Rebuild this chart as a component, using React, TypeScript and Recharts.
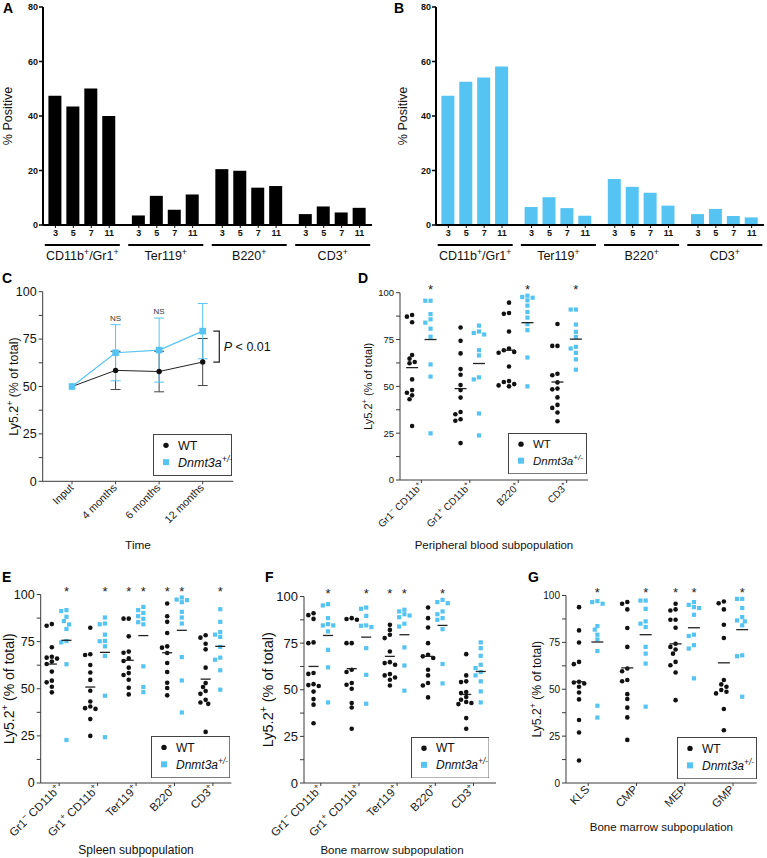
import {
  BarChart,
  Bar,
  LineChart,
  Line,
  ErrorBar,
  ScatterChart,
  Scatter,
  XAxis,
  YAxis,
  ReferenceDot,
  ReferenceLine,
  Legend,
} from "recharts";

const FONT = '"Liberation Sans", Arial, Helvetica, sans-serif';
const BLUE = "#56C4F2";
const INK = "#111111";
const AXIS = "#3a3a3a";
const Y_TICKS = [0, 12.5, 25, 37.5, 50, 62.5, 75, 87.5, 100];

// A / B: % positive per lineage and day
const lineages = ["CD11b⁺/Gr1⁺", "Ter119⁺", "B220⁺", "CD3⁺"];
const days = ["3", "5", "7", "11"];
const wtPositive = [47.4, 43.5, 50.1, 40.0, 3.5, 10.7, 5.6, 11.2, 20.5, 19.9, 13.7, 14.3, 4.0, 6.8, 4.6, 6.3];
const mutPositive = [47.4, 52.6, 54.1, 58.2, 6.6, 10.2, 6.2, 3.4, 16.9, 14.0, 11.8, 7.1, 4.0, 5.9, 3.3, 2.8];

// C: chimerism over time
const timeLabels = ["Input", "4 months", "6 months", "12 months"];
const wtChimerism = [50, 58.5, 57.9, 62.9];
const wtSd = [0, 10.1, 10.7, 12.4];
const mutChimerism = [50, 67.8, 69.2, 79.2];
const mutSd = [0, 14.8, 16.9, 14.6];
const timeNotes = ["", "NS", "NS", ""];

const mutName = "Dnmt3a";
const mutSup = "+/-";
const yTitleText = "Ly5.2⁺ (% of total)";

// D: peripheral blood
const pbCells = ["Gr1⁻ CD11b⁺", "Gr1⁺ CD11b⁺", "B220⁺", "CD3⁺"];
const pbWt = [
  [88.1, 87.2, 84.2, 66.7, 64.8, 63.0, 62.3, 53.7, 48.0, 46.6, 45.2, 43.1, 28.8],
  [81.4, 74.3, 67.6, 59.2, 56.2, 50.7, 48.0, 44.0, 36.3, 35.1, 32.4, 31.6, 19.7],
  [94.7, 89.2, 88.7, 79.3, 70.2, 69.3, 68.4, 67.9, 60.6, 52.8, 52.3, 51.2, 50.5, 50.0],
  [83.3, 71.6, 71.6, 56.7, 55.9, 52.1, 48.8, 48.4, 44.1, 40.1, 38.5, 36.0, 31.4],
];
const pbMut = [
  [95.7, 95.7, 88.6, 85.8, 84.0, 80.8, 76.5, 61.7, 55.2, 24.9],
  [82.4, 79.3, 78.5, 77.7, 69.3, 66.5, 54.8, 53.7, 35.5, 23.8],
  [98.4, 97.7, 97.3, 95.9, 93.1, 89.7, 86.7, 83.2, 80.0, 65.4, 50.0],
  [91.0, 91.0, 83.0, 79.1, 76.4, 71.1, 70.2, 67.9, 64.4, 58.9],
];
const pbWtMean = [60.0, 48.8, 69.3, 52.3];
const pbMutMean = [75.0, 62.2, 84.0, 75.2];
const pbStars = [[0, 1], [0, 0], [0, 1], [0, 1]];

// E: spleen
const spCells = ["Gr1⁻ CD11b⁺", "Gr1⁺ CD11b⁺", "Ter119⁺", "B220⁺", "CD3⁺"];
const spWt = [
  [84.3, 83.4, 72.0, 67.0, 66.5, 66.0, 64.4, 63.1, 59.1, 54.3, 53.4, 51.1, 48.1],
  [82.4, 68.3, 67.9, 62.6, 58.6, 54.7, 48.9, 43.2, 40.6, 39.7, 39.3, 33.9, 25.0],
  [87.2, 87.2, 77.8, 69.7, 69.1, 66.1, 64.7, 61.2, 58.3, 57.3, 54.8, 50.5, 47.0],
  [95.2, 88.5, 85.5, 79.6, 72.5, 71.8, 69.0, 63.7, 58.9, 53.2, 50.4, 46.5],
  [78.4, 77.1, 73.9, 70.9, 61.2, 53.0, 50.9, 48.8, 47.3, 44.1, 42.7, 42.0, 27.1],
];
const spMut = [
  [91.7, 91.2, 88.2, 85.9, 84.1, 81.7, 75.3, 74.6, 63.0, 22.8],
  [87.8, 84.6, 84.2, 78.7, 75.4, 75.2, 72.5, 67.4, 46.3, 24.3],
  [93.4, 91.7, 90.2, 88.5, 87.1, 85.3, 84.2, 61.9, 50.9, 48.2],
  [98.4, 97.3, 97.0, 95.9, 90.8, 87.8, 84.6, 66.8, 54.4, 37.4],
  [92.2, 85.5, 80.1, 78.7, 77.5, 72.2, 66.5, 65.4, 59.8, 49.5],
];
const spWtMean = [63.1, 50.9, 65.1, 69.1, 55.1];
const spMutMean = [75.7, 69.3, 78.2, 81.0, 72.5];
const spStars = [[0, 1], [0, 1], [1, 1], [1, 1], [0, 1]];

// F: bone marrow lineages
const bmCells = ["Gr1⁻ CD11b⁺", "Gr1⁺ CD11b⁺", "Ter119⁺", "B220⁺", "CD3⁺"];
const bmWt = [
  [91.0, 90.0, 88.0, 75.4, 75.0, 59.0, 58.5, 53.0, 52.5, 52.0, 49.0, 45.0, 42.0, 32.0],
  [88.4, 87.9, 87.5, 75.0, 75.0, 60.7, 59.5, 53.6, 52.7, 50.5, 42.9, 40.5, 29.1],
  [84.8, 82.1, 79.5, 77.7, 70.5, 64.8, 64.3, 63.4, 58.4, 57.7, 56.6, 55.4, 52.3],
  [94.1, 88.4, 83.4, 75.0, 68.8, 67.9, 67.0, 60.7, 57.7, 53.6, 52.3, 45.9],
  [69.1, 57.7, 54.5, 54.1, 48.8, 48.2, 46.1, 44.6, 43.4, 42.9, 42.3, 34.8, 29.1],
];
const bmMut = [
  [95.9, 95.2, 88.4, 85.2, 84.5, 84.5, 81.3, 71.4, 62.0, 43.2],
  [94.1, 93.4, 89.6, 84.5, 84.3, 83.6, 72.3, 58.0, 42.5],
  [92.9, 92.0, 90.5, 89.8, 88.9, 85.4, 83.9, 72.7, 63.0, 49.5],
  [98.2, 97.0, 96.4, 92.0, 90.5, 88.4, 87.5, 82.5, 63.8, 53.4],
  [75.4, 72.3, 68.2, 63.4, 61.6, 59.5, 57.7, 54.5, 49.1, 43.2],
];
const bmWtMean = [62.5, 61.3, 67.9, 67.9, 47.5];
const bmMutMean = [79.1, 78.2, 79.5, 84.5, 59.8];
const bmStars = [[0, 1], [0, 1], [1, 1], [0, 1], [0, 0]];

// G: bone marrow progenitors
const progCells = ["KLS", "CMP", "MEP", "GMP"];
const progWt = [
  [93.8, 81.4, 74.9, 64.6, 63.4, 54.0, 53.6, 53.1, 51.3, 48.3, 44.6, 33.6, 26.9, 12.0],
  [96.5, 95.6, 92.6, 82.7, 72.6, 61.1, 59.6, 54.9, 54.3, 47.4, 44.8, 40.2, 35.0, 23.0],
  [95.6, 92.6, 92.0, 87.1, 87.1, 82.8, 74.3, 72.6, 71.2, 69.0, 64.6, 62.8, 58.9, 44.2],
  [96.8, 95.9, 92.6, 84.4, 77.3, 54.9, 52.6, 51.3, 49.6, 48.7, 47.8, 39.5, 28.1],
];
const progMut = [
  [97.0, 96.5, 95.6, 83.7, 81.8, 79.1, 76.6, 70.4, 41.2, 34.9],
  [97.3, 97.3, 92.9, 86.2, 85.0, 83.2, 72.6, 69.0, 63.7, 40.7],
  [96.5, 95.0, 93.8, 93.3, 89.7, 79.1, 78.4, 73.5, 71.7, 55.8],
  [98.2, 98.2, 93.3, 88.5, 86.7, 86.2, 84.1, 68.1, 67.6, 46.0],
];
const progWtMean = [54.0, 61.4, 74.2, 64.1];
const progMutMean = [75.2, 79.1, 82.8, 81.8];
const progStars = [[0, 1], [0, 1], [1, 1], [0, 1]];

// raise ⁺ / ⁻ into small superscript tspans
function supSpans(text: string, size: number) {
  const parts = text.split(/([⁺⁻]+)/).filter((s) => s.length > 0);
  const rise = size * 0.4;
  let up = false;
  return parts.map((s, i) => {
    const sup = /^[⁺⁻]+$/.test(s);
    const dy = sup === up ? 0 : sup ? -rise : rise;
    up = sup;
    return (
      <tspan key={i} dy={dy} fontSize={sup ? size * 0.7 : size}>
        {sup ? s.replace(/⁺/g, "+").replace(/⁻/g, "−") : s}
      </tspan>
    );
  });
}

const yTitle = (text: string, size: number, cx: number) => (p: any) => {
  const vb = p.viewBox || { y: 0, height: 0 };
  const cy = vb.y + vb.height / 2;
  return (
    <text x={cx} y={cy} transform={`rotate(-90 ${cx} ${cy})`} textAnchor="middle" dy="0.35em" fontSize={size} fill={INK}>
      {supSpans(text, size)}
    </text>
  );
};

const xTitle = (text: string, size: number, dy: number, dx = 0) => (p: any) => {
  const vb = p.viewBox || { x: 0, y: 0, width: 0 };
  const cx = vb.x + vb.width / 2 + dx;
  return (
    <text x={cx} y={vb.y + dy} dy="0.35em" textAnchor="middle" fontSize={size} fill={INK}>
      {text}
    </text>
  );
};

const yTick = (size: number, bold = false) => (p: any) =>
  p.payload.value % 25 === 0 || bold ? (
    <text x={p.x} y={p.y} dy="0.35em" textAnchor="end" fontSize={size} fontWeight={bold ? 700 : 400} fill={INK}>
      {p.payload.value}
    </text>
  ) : (
    <g />
  );

const rotTick = (label: (v: any) => string, size: number) => (p: any) => {
  const x = p.x + 2;
  const y = p.y + 2;
  return (
    <text x={x} y={y} dy="0.35em" textAnchor="end" fontSize={size} fill="#1a1a1a" transform={`rotate(-45 ${x} ${y})`}>
      {supSpans(label(p.payload.value), size)}
    </text>
  );
};

function LegendBox({ w, h, size }: { w: number; h: number; size: number }) {
  const r1 = h * 0.27;
  const r2 = h * 0.67;
  return (
    <svg width={w} height={h} style={{ display: "block", fontFamily: FONT }}>
      <rect x={0.5} y={0.5} width={w - 1} height={h - 1} fill="#fff" stroke="#444" />
      <circle cx={13} cy={r1} r={2.7} fill={INK} />
      <text x={25} y={r1} dy="0.35em" fontSize={size} fill={INK}>
        WT
      </text>
      <rect x={10} y={r2 - 3} width={6} height={6} fill={BLUE} />
      <text x={25} y={r2} dy="0.35em" fontSize={size} fill={INK} fontStyle="italic">
        {mutName}
        <tspan dy={-size * 0.4} fontSize={size * 0.7}>
          {mutSup}
        </tspan>
      </text>
    </svg>
  );
}

const legendAt = (left: number, top: number, w: number, h: number, size: number) => (
  <Legend
    layout="horizontal"
    verticalAlign="middle"
    align="center"
    wrapperStyle={{ left, top, width: w, height: h }}
    content={() => <LegendBox w={w} h={h} size={size} />}
  />
);

// ---------- A / B ----------
const GROUP_STEP = 4.65;
const BAR_DOMAIN: [number, number] = [-0.69, 3 * GROUP_STEP + 3 + 0.69];

function BarPanel({ values, color, left, width, yw, mr, titleX }: any) {
  const rows = values.map((v: number, i: number) => ({ x: Math.floor(i / 4) * GROUP_STEP + (i % 4), v }));
  const dayTicks = rows.map((r: any) => r.x);
  const groupTicks = lineages.map((_, g) => g * GROUP_STEP + 1.5);
  const dayTick = (p: any) => (
    <text x={p.x} y={p.y} dy="0.71em" textAnchor="middle" fontSize={9} fontWeight={700} fill={INK}>
      {days[p.index % 4]}
    </text>
  );
  const groupTick = (p: any) => (
    <g>
      <line x1={p.x - 37.5} x2={p.x + 37.5} y1={p.y + 4} y2={p.y + 4} stroke="#000" strokeWidth={2} />
      <text x={p.x} y={p.y + 18.5} textAnchor="middle" fontSize={12.5} fill={INK}>
        {supSpans(lineages[p.index], 12.5)}
      </text>
    </g>
  );
  return (
    <div style={{ position: "absolute", left, top: 0 }}>
      <BarChart width={width} height={290} data={rows} margin={{ top: 7, right: mr, left: 0, bottom: 0 }}>
        <XAxis
          type="number"
          dataKey="x"
          domain={BAR_DOMAIN}
          allowDataOverflow
          ticks={dayTicks}
          interval={0}
          tick={dayTick}
          tickSize={3}
          tickMargin={2}
          height={16}
          axisLine={{ stroke: "#000", strokeWidth: 2 }}
          tickLine={{ stroke: "#000" }}
        />
        <XAxis
          xAxisId="grp"
          type="number"
          dataKey="x"
          domain={BAR_DOMAIN}
          allowDataOverflow
          ticks={groupTicks}
          interval={0}
          tick={groupTick}
          tickSize={0}
          tickMargin={0}
          height={49}
          axisLine={false}
          tickLine={false}
        />
        <YAxis
          domain={[0, 80]}
          ticks={[0, 20, 40, 60, 80]}
          interval={0}
          width={yw}
          tick={yTick(9, true)}
          tickSize={4}
          tickMargin={1}
          axisLine={{ stroke: "#000", strokeWidth: 2 }}
          tickLine={{ stroke: "#000", strokeWidth: 1.5 }}
          label={yTitle("% Positive", 12.5, titleX)}
        />
        <Bar dataKey="v" fill={color} barSize={13} isAnimationActive={false} />
      </BarChart>
    </div>
  );
}

// ---------- C ----------
function TimePanel() {
  const rows = timeLabels.map((t, i) => ({
    t,
    wt: wtChimerism[i],
    wtErr: wtSd[i],
    mut: mutChimerism[i],
    mutErr: mutSd[i],
  }));
  const circle = (p: any) => <circle key={`w${p.index}`} cx={p.cx} cy={p.cy} r={2.7} fill={INK} />;
  const square = (p: any) => <rect key={`m${p.index}`} x={p.cx - 3.3} y={p.cy - 3.3} width={6.6} height={6.6} fill={BLUE} />;
  return (
    <div style={{ position: "absolute", left: 0, top: 285 }}>
      <LineChart width={300} height={270} data={rows} margin={{ top: 6.7, right: 66.7, left: 0, bottom: 0 }}>
        <XAxis
          dataKey="t"
          scale="point"
          padding={{ left: 29.3, right: 30.6 }}
          height={73.7}
          interval={0}
          tick={rotTick((v) => String(v), 10.8)}
          tickSize={3}
          tickMargin={2}
          axisLine={{ stroke: AXIS }}
          tickLine={{ stroke: AXIS }}
          label={xTitle("Time", 11.8, 63.7)}
        />
        <YAxis
          domain={[0, 100]}
          ticks={Y_TICKS}
          interval={0}
          width={42.7}
          tick={yTick(12.5)}
          tickSize={4}
          tickMargin={2}
          axisLine={{ stroke: AXIS }}
          tickLine={{ stroke: AXIS }}
          label={yTitle(yTitleText, 12.4, 18.3)}
        />
        <Line dataKey="wt" stroke="#222" strokeWidth={1} dot={circle} activeDot={false} isAnimationActive={false}>
          <ErrorBar dataKey="wtErr" width={5} stroke="#444" strokeWidth={1} />
        </Line>
        <Line dataKey="mut" stroke={BLUE} strokeWidth={1.2} dot={square} activeDot={false} isAnimationActive={false}>
          <ErrorBar dataKey="mutErr" width={5} stroke={BLUE} strokeWidth={1} />
        </Line>
        {timeNotes.map((n, i) =>
          n ? (
            <ReferenceDot
              key={i}
              x={timeLabels[i]}
              y={mutChimerism[i] + mutSd[i] + 3.5}
              r={0}
              ifOverflow="visible"
              shape={(p: any) => (
                <text x={p.cx} y={p.cy} dy="0.35em" textAnchor="middle" fontSize={8} fill="#333">
                  {n}
                </text>
              )}
            />
          ) : null
        )}
        <ReferenceLine
          segment={[
            { x: timeLabels[3], y: mutChimerism[3] },
            { x: timeLabels[3], y: wtChimerism[3] },
          ]}
          shape={(p: any) => {
            const x0 = p.x1 + 10.6;
            const xv = p.x1 + 16.6;
            return (
              <g>
                <path d={`M${x0},${p.y1}H${xv}V${p.y2}H${x0}`} fill="none" stroke="#222" strokeWidth={1.2} />
                <text x={xv + 4.5} y={(p.y1 + p.y2) / 2} dy="0.35em" fontSize={12.5} fill={INK}>
                  <tspan fontStyle="italic">P</tspan> &lt; 0.01
                </text>
              </g>
            );
          }}
        />
        {legendAt(153, 149, 79, 42, 12.5)}
      </LineChart>
    </div>
  );
}

// ---------- D-G ----------
const SIDE = 0.19;
const XAXIS_H = 75;

// simple beeswarm: spread overlapping points sideways (pixel space)
function swarm(values: number[], center: number, unitX: number, unitY: number) {
  const placed: { dx: number; py: number }[] = [];
  const sorted = [...values].sort((a, b) => b - a);
  return sorted.map((v) => {
    const py = v * unitY;
    let dx = 0;
    for (let k = 0; k < 12; k++) {
      const cand = (k % 2 ? -1 : 1) * Math.ceil(k / 2) * 2.6;
      if (placed.every((p) => Math.hypot(p.dx - cand, p.py - py) >= 4.4)) {
        dx = cand;
        break;
      }
    }
    placed.push({ dx, py });
    return { x: center + dx / unitX, y: v };
  });
}

function DotPanel(c: any) {
  const plotW = c.width - c.yw - c.mr;
  const plotH = c.height - c.mt - XAXIS_H;
  const unitX = plotW / (c.domain[1] - c.domain[0]);
  const unitY = plotH / 100;
  const cells: string[] = c.cells;
  const wtPts = cells.flatMap((_, i) => swarm(c.wt[i], i + 1 - SIDE, unitX, unitY));
  const mutPts = cells.flatMap((_, i) => swarm(c.mut[i], i + 1 + SIDE, unitX, unitY));
  const avgPts = cells.flatMap((_, i) => [
    { x: i + 1 - SIDE, y: c.wtAvg[i] },
    { x: i + 1 + SIDE, y: c.mutAvg[i] },
  ]);
  const starPts = cells.flatMap((_, i) =>
    (c.stars[i] as number[]).flatMap((s, k) => (s ? [{ x: i + 1 + (k ? SIDE : -SIDE), y: 100 }] : []))
  );
  const dot = (p: any) => <circle cx={p.cx} cy={p.cy} r={2.3} fill={INK} />;
  const sq = (p: any) => <rect x={p.cx - 2.1} y={p.cy - 2.1} width={4.2} height={4.2} fill={BLUE} />;
  const avg = (p: any) => (
    <line x1={p.cx - c.meanHalf} x2={p.cx + c.meanHalf} y1={p.cy} y2={p.cy} stroke="#222" strokeWidth={1.3} />
  );
  const star = (p: any) => (
    <text x={p.cx} y={p.cy + 1} textAnchor="middle" fontSize={13} fill="#222">
      *
    </text>
  );
  return (
    <div style={{ position: "absolute", left: c.left, top: c.top }}>
      <ScatterChart width={c.width} height={c.height} margin={{ top: c.mt, right: c.mr, left: 0, bottom: 0 }}>
        <XAxis
          type="number"
          dataKey="x"
          domain={c.domain}
          ticks={cells.map((_, i) => i + 1)}
          interval={0}
          height={XAXIS_H}
          tick={rotTick((v) => cells[v - 1] || "", c.cellFont)}
          tickSize={3}
          tickMargin={2}
          axisLine={{ stroke: AXIS }}
          tickLine={{ stroke: AXIS }}
          label={xTitle(c.title, c.titleFont, c.titleDy, c.titleDx)}
        />
        <YAxis
          type="number"
          dataKey="y"
          domain={[0, 100]}
          ticks={Y_TICKS}
          interval={0}
          width={c.yw}
          tick={yTick(c.tickFont)}
          tickSize={4}
          tickMargin={2}
          axisLine={{ stroke: AXIS }}
          tickLine={{ stroke: AXIS }}
          label={yTitle(yTitleText, c.yTitleFont, c.yTitleX)}
        />
        <Scatter data={wtPts} shape={dot} isAnimationActive={false} />
        <Scatter data={mutPts} shape={sq} isAnimationActive={false} />
        <Scatter data={avgPts} shape={avg} isAnimationActive={false} />
        <Scatter data={starPts} shape={star} isAnimationActive={false} />
        {legendAt(c.legend[0], c.legend[1], c.legend[2], c.legend[3], c.legendFont)}
      </ScatterChart>
    </div>
  );
}

const letters: [string, number, number][] = [
  ["A", 3, 12.7],
  ["B", 394, 12.7],
  ["C", 2, 283],
  ["D", 358, 283],
  ["E", 2, 581.7],
  ["F", 265, 582],
  ["G", 528, 582],
];

export default function App() {
  return (
    <div style={{ position: "absolute", left: 0, top: 0, width: 767, height: 858, background: "#fff", fontFamily: FONT }}>
      <BarPanel values={wtPositive} color="#000" left={0} width={380} yw={43} mr={8} titleX={11.7} />
      <BarPanel values={mutPositive} color={BLUE} left={392} width={375} yw={44} mr={3} titleX={14.5} />
      <TimePanel />
      <DotPanel
        left={340} top={272} width={260} height={283} yw={60} mt={20.7} mr={12} domain={[0.56, 4.44]}
        cells={pbCells} wt={pbWt} mut={pbMut} wtAvg={pbWtMean} mutAvg={pbMutMean} stars={pbStars}
        tickFont={9.5} cellFont={10} yTitleFont={11} yTitleX={31.7}
        title="Peripheral blood subpopulation" titleFont={11.5} titleDy={65} titleDx={0}
        legend={[168.3, 160.7, 79, 41.3]} legendFont={11.5} meanHalf={6}
      />
      <DotPanel
        left={0} top={580} width={260} height={278} yw={40.7} mt={14.5} mr={28.6} domain={[0.52, 5.48]}
        cells={spCells} wt={spWt} mut={spMut} wtAvg={spWtMean} mutAvg={spMutMean} stars={spStars}
        tickFont={12.5} cellFont={11.5} yTitleFont={14} yTitleX={14}
        title="Spleen subpopulation" titleFont={12} titleDy={67} titleDx={0}
        legend={[150.7, 156, 79.3, 42.3]} legendFont={12} meanHalf={5}
      />
      <DotPanel
        left={255} top={580} width={255} height={278} yw={49} mt={16.5} mr={14} domain={[0.56, 5.59]}
        cells={bmCells} wt={bmWt} mut={bmMut} wtAvg={bmWtMean} mutAvg={bmMutMean} stars={bmStars}
        tickFont={13} cellFont={11.5} yTitleFont={14.5} yTitleX={18.3}
        title="Bone marrow subpopulation" titleFont={11.5} titleDy={67} titleDx={-8}
        legend={[155.7, 156.7, 78.6, 41.6]} legendFont={12} meanHalf={5}
      />
      <DotPanel
        left={510} top={580} width={257} height={278} yw={56} mt={15.5} mr={10.3} domain={[0.54, 4.49]}
        cells={progCells} wt={progWt} mut={progMut} wtAvg={progWtMean} mutAvg={progMutMean} stars={progStars}
        tickFont={10} cellFont={11.5} yTitleFont={12.2} yTitleX={31}
        title="Bone marrow subpopulation" titleFont={11.5} titleDy={44} titleDx={0}
        legend={[166.7, 156.7, 80, 42.3]} legendFont={12} meanHalf={6}
      />
      <svg width={767} height={858} style={{ position: "absolute", left: 0, top: 0, pointerEvents: "none" }}>
        {letters.map(([t, x, y]) => (
          <text key={t} x={x} y={y} fontSize={14} fontWeight={700} fill="#000" fontFamily={FONT}>
            {t}
          </text>
        ))}
      </svg>
    </div>
  );
}
